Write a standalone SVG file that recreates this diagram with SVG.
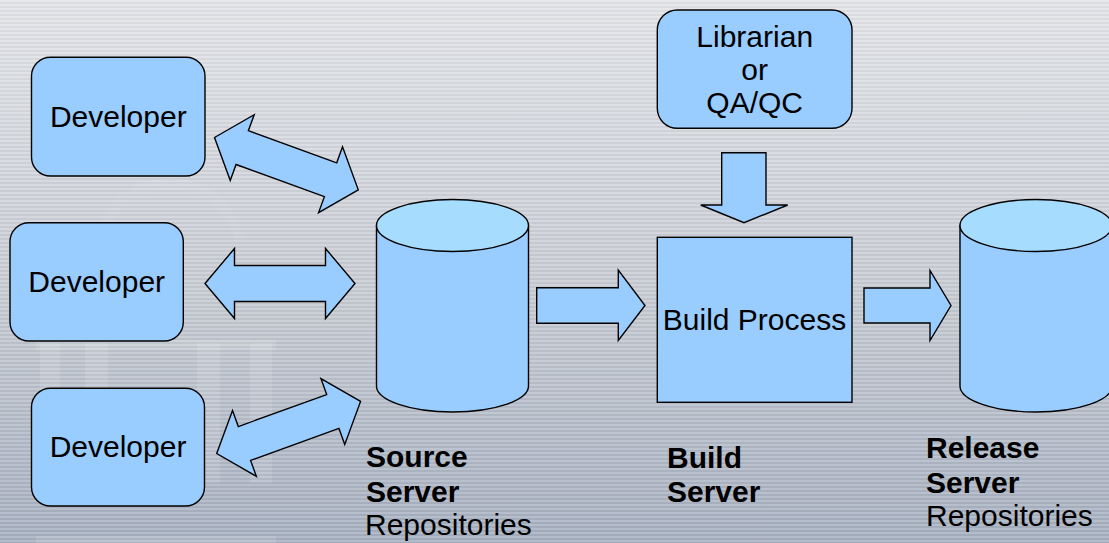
<svg xmlns="http://www.w3.org/2000/svg" width="1109" height="543" viewBox="0 0 1109 543">
  <defs>
    <linearGradient id="bg" x1="0" y1="0" x2="0" y2="1">
      <stop offset="0" stop-color="#E2E4E8"/>
      <stop offset="0.5" stop-color="#C9CDD4"/>
      <stop offset="1" stop-color="#A6B0C0"/>
    </linearGradient>
    <pattern id="stripes" x="0" y="0" width="8" height="4" patternUnits="userSpaceOnUse">
      <rect x="0" y="0" width="8" height="2" fill="#FFFFFF" fill-opacity="0.14"/>
      <rect x="0" y="2" width="8" height="2" fill="#000000" fill-opacity="0.03"/>
    </pattern>
    <path id="dbl153" d="M0,0 L29.5,-35 L29.5,-18 L123.5,-18 L123.5,-35 L153,0 L123.5,35 L123.5,18 L29.5,18 L29.5,35 Z"/>
  </defs>
  <style>
    .shape { fill: #99CCFF; stroke: #000000; stroke-width: 1.4; stroke-linejoin: miter; }
    .cyltop { fill: #A6DDFF; stroke: #000000; stroke-width: 1.4; }
    .lbl { font-family: "Liberation Sans", Arial, sans-serif; font-size: 30px; fill: #000000; }
    .c { text-anchor: middle; }
    .b { font-weight: bold; }
  </style>

  <!-- background -->
  <rect x="0" y="0" width="1109" height="543" fill="url(#bg)"/>
  <g fill="#FFFFFF" fill-opacity="0.12">
    <rect x="40" y="343" width="20" height="140"/>
    <rect x="85" y="343" width="23" height="140"/>
    <rect x="197" y="343" width="23" height="140"/>
    <rect x="250" y="343" width="22" height="140"/>
    <rect x="36" y="340" width="240" height="10"/>
    <rect x="36" y="536" width="240" height="7"/>
  </g>
  <path d="M95,240 Q110,180 170,178 Q225,178 245,240 L235,240 Q220,190 170,190 Q120,190 105,240 Z" fill="#FFFFFF" fill-opacity="0.06"/>
  <rect x="0" y="0" width="1109" height="543" fill="url(#stripes)"/>

  <!-- connectors -->
  <g id="connectors">
    <use href="#dbl153" class="shape" transform="translate(214.5,137.5) rotate(20)"/>
    <path class="shape" d="M205,283.5 L234.5,248.5 L234.5,265.5 L325.5,265.5 L325.5,248.5 L355,283.5 L325.5,318.5 L325.5,301.5 L234.5,301.5 L234.5,318.5 Z"/>
    <use href="#dbl153" class="shape" transform="translate(216.7,453.5) rotate(-19.9)"/>
    <path class="shape" d="M536.7,287.7 L618.3,287.7 L618.3,270 L645,305.5 L618.3,340.5 L618.3,323.3 L536.7,323.3 Z"/>
    <path class="shape" d="M864,288 L930,288 L930,270.5 L951,305.5 L930,340.5 L930,323 L864,323 Z"/>
    <path class="shape" d="M721.7,152.7 L766,152.7 L766,205 L787.7,205 L744,222.7 L700.7,205 L721.7,205 Z"/>
  </g>

  <!-- developers -->
  <g id="developer1">
    <rect class="shape" x="31.5" y="57.3" width="173.5" height="118.7" rx="19" ry="19"/>
    <text class="lbl c" x="118.3" y="127.3">Developer</text>
  </g>
  <g id="developer2">
    <rect class="shape" x="10" y="222.7" width="173.3" height="118.3" rx="19" ry="19"/>
    <text class="lbl c" x="96.7" y="291.7">Developer</text>
  </g>
  <g id="developer3">
    <rect class="shape" x="31.5" y="388.3" width="173" height="117.7" rx="19" ry="19"/>
    <text class="lbl c" x="118" y="456.7">Developer</text>
  </g>

  <!-- source server -->
  <g id="source-server">
    <path class="shape" d="M376.5,225.5 L376.5,386 A76,26 0 0 0 528.5,386 L528.5,225.5 Z"/>
    <ellipse class="cyltop" cx="452.5" cy="225.5" rx="76" ry="26"/>
    <text class="lbl b" x="366" y="467.3">Source</text>
    <text class="lbl b" x="366" y="501.5">Server</text>
    <text class="lbl" x="365" y="534.5">Repositories</text>
  </g>

  <!-- librarian -->
  <g id="librarian">
    <rect class="shape" x="657.3" y="10" width="194.7" height="118.3" rx="20" ry="20"/>
    <text class="lbl c" x="754.7" y="46.7">Librarian</text>
    <text class="lbl c" x="754.7" y="80">or</text>
    <text class="lbl c" x="754.7" y="113.3">QA/QC</text>
  </g>

  <!-- build server -->
  <g id="build-server">
    <rect class="shape" x="657.3" y="237.3" width="194.7" height="165"/>
    <text class="lbl c" x="754.5" y="329.5">Build Process</text>
    <text class="lbl b" x="667" y="468.3">Build</text>
    <text class="lbl b" x="667" y="501.7">Server</text>
  </g>

  <!-- release server -->
  <g id="release-server">
    <path class="shape" d="M960,225.5 L960,386 A76,26 0 0 0 1112,386 L1112,225.5 Z"/>
    <ellipse class="cyltop" cx="1036" cy="225.5" rx="76" ry="26"/>
    <text class="lbl b" x="926" y="458.3">Release</text>
    <text class="lbl b" x="926" y="492.5">Server</text>
    <text class="lbl" x="926" y="525.5">Repositories</text>
  </g>
</svg>
